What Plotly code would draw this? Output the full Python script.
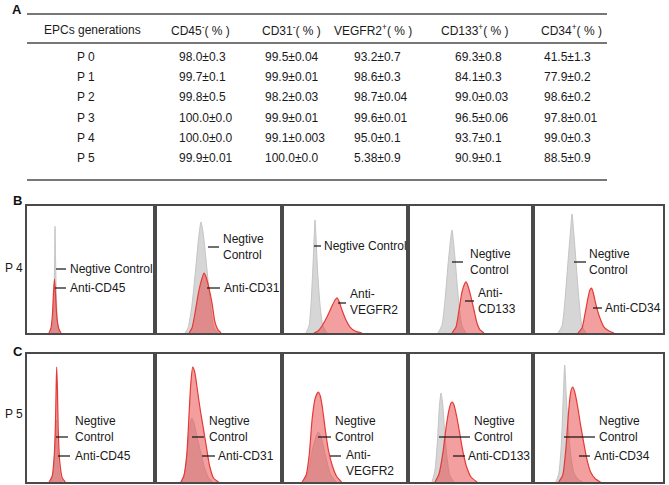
import plotly.graph_objects as go

W, H = 669, 485
FONT = "Liberation Sans, Arial, Helvetica, sans-serif"
TXT = "#1a1a1a"

# ---------------- Table (panel A) data ----------------
table_header = ["EPCs generations", "CD45<sup>-</sup>( % )", "CD31<sup>-</sup>( % )",
                "VEGFR2<sup>+</sup>( % )", "CD133<sup>+</sup>( % )", "CD34<sup>+</sup>( % )"]
generations = ["P 0", "P 1", "P 2", "P 3", "P 4", "P 5"]
cd45 = ["98.0±0.3", "99.7±0.1", "99.8±0.5", "100.0±0.0", "100.0±0.0", "99.9±0.01"]
cd31 = ["99.5±0.04", "99.9±0.01", "98.2±0.03", "99.9±0.01", "99.1±0.003", "100.0±0.0"]
vegfr2 = ["93.2±0.7", "98.6±0.3", "98.7±0.04", "99.6±0.01", "95.0±0.1", "5.38±0.9"]
cd133 = ["69.3±0.8", "84.1±0.3", "99.0±0.03", "96.5±0.06", "93.7±0.1", "90.9±0.1"]
cd34 = ["41.5±1.3", "77.9±0.2", "98.6±0.2", "97.8±0.01", "99.0±0.3", "88.5±0.9"]

# ---------------- Histogram data (intensity units 0-100, counts 0-100) ----------------
# Row B: P 4
p4_cd45_ctrl_x = [18.75, 20.3, 21.1, 21.6, 21.9, 22.3, 22.9, 23.8, 25]
p4_cd45_ctrl_y = [0, 8, 30, 60, 84, 60, 30, 8, 0]
p4_cd45_anti_x = [17.2, 18.75, 19.9, 20.7, 21.5, 22.3, 23.4, 25, 26.6]
p4_cd45_anti_y = [0, 4, 15, 32, 42.5, 30, 12, 3, 0]

p4_cd31_ctrl_x = [23.6, 26.0, 29.1, 32.3, 34.6, 36.2, 37.8, 40.2, 43.3, 46.5, 49.6]
p4_cd31_ctrl_y = [0, 3.9, 22, 53.5, 77, 87.4, 79.5, 57.5, 26, 3.9, 0]
p4_cd31_anti_x = [26.8, 29.1, 31.5, 33.9, 36.2, 38.6, 40.2, 42.5, 44.9, 47.2, 49.6, 52]
p4_cd31_anti_y = [0, 3.9, 15.7, 29.9, 40.2, 47.2, 44.1, 35.4, 23.6, 8.7, 2.4, 0]

p4_vegfr2_ctrl_x = [19, 21.4, 23, 24.6, 25.6, 26.2, 27, 28.2, 30.2, 32.5, 35.7]
p4_vegfr2_ctrl_y = [0, 5.5, 22, 53.5, 77, 89, 75, 49.6, 22, 5.5, 0]
p4_vegfr2_anti_x = [25.4, 28.6, 31.7, 35.7, 39.7, 42.1, 43.7, 45.2, 47.6, 50.8, 54, 57.9, 63.5]
p4_vegfr2_anti_y = [0, 1.6, 5.5, 12.6, 21.3, 26, 27.6, 25.2, 18.1, 10.2, 4.7, 1.6, 0]

p4_cd133_ctrl_x = [24, 27.2, 29.6, 32, 34, 35.2, 36.4, 38.4, 40.8, 43.2, 46.4]
p4_cd133_ctrl_y = [0, 6.3, 26, 53.5, 73.2, 81.1, 71.7, 49.6, 22, 5.5, 0]
p4_cd133_anti_x = [35.2, 38.4, 40.8, 43.2, 45.2, 46.4, 48, 50.4, 52.8, 55.2, 57.6, 60.8]
p4_cd133_anti_y = [0, 4.7, 18.1, 32.3, 38.6, 40.2, 37, 28.3, 18.1, 7.9, 2.4, 0]

p4_cd34_ctrl_x = [19.2, 22.3, 24.6, 26.9, 28.8, 30, 31.2, 33.1, 35.4, 37.7, 40.8]
p4_cd34_ctrl_y = [0, 5.5, 26, 55.9, 79.5, 93.7, 81.1, 55.9, 26, 5.5, 0]
p4_cd34_anti_x = [34.6, 37.7, 40, 42.3, 43.8, 45, 46.2, 48.5, 51.5, 54.6, 58.5, 62.3]
p4_cd34_anti_y = [0, 3.9, 15, 27.6, 33.9, 35.4, 32.3, 22, 11.8, 4.7, 1.6, 0]

# Row C: P 5
p5_cd45_ctrl_x = [18.9, 20.9, 22, 22.8, 23.5, 24.4, 26, 27.6]
p5_cd45_ctrl_y = [0, 9.4, 28.9, 48.4, 32.8, 13.3, 3.1, 0]
p5_cd45_anti_x = [17.3, 19.7, 21.3, 22.3, 22.8, 23.2, 23.8, 24.4, 25.6, 27.6, 29.9]
p5_cd45_anti_y = [0, 4.7, 21.1, 48.4, 75.8, 89.8, 71.9, 40.6, 15.6, 3.1, 0]

p5_cd31_ctrl_x = [21.1, 23.4, 25.8, 27.3, 28.9, 30.5, 32.8, 35.9, 39.1, 42.2, 45.3]
p5_cd31_ctrl_y = [0, 7.8, 26.6, 42.2, 50, 46.9, 36.7, 23.4, 10.9, 3.1, 0]
p5_cd31_anti_x = [20.3, 22.7, 25, 26.6, 28.1, 29.7, 31.3, 33.6, 35.9, 38.3, 40.6, 43, 46.1, 50]
p5_cd31_anti_y = [0, 4.7, 21.1, 48.4, 75.8, 89.8, 85.9, 70.3, 54.7, 40.6, 26.6, 12.5, 3.1, 0]

p5_vegfr2_ctrl_x = [17.6, 20.8, 24, 27.2, 28.8, 31.2, 34.4, 38.4, 43.2]
p5_vegfr2_ctrl_y = [0, 7.8, 25, 35.9, 39.1, 34.4, 21.1, 6.3, 0]
p5_vegfr2_anti_x = [16, 19.2, 21.6, 24, 26.4, 28.8, 30.4, 32, 34.4, 36.8, 40, 43.2, 47.2]
p5_vegfr2_anti_y = [0, 5.5, 21.1, 50, 65.6, 70.3, 67.2, 58.6, 40.6, 25, 12.5, 4.7, 0]

p5_cd133_ctrl_x = [19.2, 21.6, 23.6, 25.2, 26.4, 27.6, 29.2, 31.2, 33.6, 36.8]
p5_cd133_ctrl_y = [0, 9.4, 32.8, 60.2, 69.5, 62.5, 42.2, 18.8, 4.7, 0]
p5_cd133_anti_x = [21.6, 24.8, 28, 30.4, 32.8, 34.4, 35.6, 36.8, 39.2, 41.6, 44, 47.2, 50.4, 55.2]
p5_cd133_anti_y = [0, 6.3, 23.4, 42.2, 56.3, 61.7, 62.5, 60.2, 50, 36.7, 23.4, 10.9, 3.9, 0]

p5_cd34_ctrl_x = [17.6, 19.8, 21.8, 23.3, 24.4, 25.6, 27.1, 29, 31.3, 34.4, 38.2]
p5_cd34_ctrl_y = [0, 6.3, 28.9, 67.2, 91.4, 67.2, 42.2, 21.1, 7.8, 2.3, 0]
p5_cd34_anti_x = [19.8, 22.9, 25.2, 27.5, 29, 30.5, 32.1, 34.4, 36.6, 38.9, 41.2, 44.3, 48.1, 51.9]
p5_cd34_anti_y = [0, 5.5, 25, 56.3, 70.3, 74.2, 70.3, 58.6, 44.5, 31.3, 18.8, 7.8, 2.3, 0]

row_labels = ["P 4", "P 5"]
panel_letters = ["A", "B", "C"]

# ---------------- Layout constants (pixels) ----------------
edges_x = [27, 155, 282, 408, 533, 663]
row_px = [(206, 333), (354, 482)]

def px(x):
    return x / W

def py(y):
    return 1 - y / H

histos = [
    [(p4_cd45_ctrl_x, p4_cd45_ctrl_y, p4_cd45_anti_x, p4_cd45_anti_y),
     (p4_cd31_ctrl_x, p4_cd31_ctrl_y, p4_cd31_anti_x, p4_cd31_anti_y),
     (p4_vegfr2_ctrl_x, p4_vegfr2_ctrl_y, p4_vegfr2_anti_x, p4_vegfr2_anti_y),
     (p4_cd133_ctrl_x, p4_cd133_ctrl_y, p4_cd133_anti_x, p4_cd133_anti_y),
     (p4_cd34_ctrl_x, p4_cd34_ctrl_y, p4_cd34_anti_x, p4_cd34_anti_y)],
    [(p5_cd45_ctrl_x, p5_cd45_ctrl_y, p5_cd45_anti_x, p5_cd45_anti_y),
     (p5_cd31_ctrl_x, p5_cd31_ctrl_y, p5_cd31_anti_x, p5_cd31_anti_y),
     (p5_vegfr2_ctrl_x, p5_vegfr2_ctrl_y, p5_vegfr2_anti_x, p5_vegfr2_anti_y),
     (p5_cd133_ctrl_x, p5_cd133_ctrl_y, p5_cd133_anti_x, p5_cd133_anti_y),
     (p5_cd34_ctrl_x, p5_cd34_ctrl_y, p5_cd34_anti_x, p5_cd34_anti_y)],
]

# label layout per panel: (text, text_x, text_y, tick_x0, tick_x1, tick_y) in pixels
labels = [
    [
        [("Negtive Control", 68, 269, 56, 66, 269), ("Anti-CD45", 68, 288, 55, 66, 288)],
        [("Negtive<br>Control", 221, 247, 208, 219, 247), ("Anti-CD31", 222, 288, 207, 220, 288)],
        [("Negtive Control", 322, 246, 314, 321, 246), ("Anti-<br>VEGFR2", 348, 302, 338, 346, 303)],
        [("Negtive<br>Control", 468, 262, 452, 463, 262), ("Anti-<br>CD133", 476, 301, 465, 474, 301)],
        [("Negtive<br>Control", 587, 262, 574, 586, 262), ("Anti-CD34", 603, 308, 593, 602, 308)],
    ],
    [
        [("Negtive<br>Control", 73, 429, 56, 68, 437), ("Anti-CD45", 73, 456, 58, 70, 456)],
        [("Negtive<br>Control", 207, 429, 192, 204, 437), ("Anti-CD31", 216, 456, 202, 215, 456)],
        [("Negtive<br>Control", 333, 429, 318, 331, 437), ("Anti-<br>VEGFR2", 344, 463, 330, 341, 456)],
        [("Negtive<br>Control", 472, 429, 439, 470, 437), ("Anti-CD133", 466, 456, 453, 465, 456)],
        [("Negtive<br>Control", 597, 429, 564, 595, 437), ("Anti-CD34", 592, 456, 579, 590, 456)],
    ],
]

fig = go.Figure()
layout = dict(width=W, height=H, margin=dict(l=0, r=0, t=0, b=0),
              paper_bgcolor="white", plot_bgcolor="white", showlegend=False,
              font=dict(family=FONT, size=12, color=TXT))
annotations = []
shapes = []

GRAY_FILL = "rgba(214,214,214,1)"
GRAY_LINE = "#c4c4c4"
RED_FILL = "rgba(232,70,70,0.52)"
RED_LINE = "#e53935"

k = 0
for r in range(2):
    top, bot = row_px[r]
    for c in range(5):
        k += 1
        xa = "xaxis" if k == 1 else f"xaxis{k}"
        ya = "yaxis" if k == 1 else f"yaxis{k}"
        xr = "x" if k == 1 else f"x{k}"
        yr = "y" if k == 1 else f"y{k}"
        L, R = edges_x[c], edges_x[c + 1]
        axcommon = dict(range=[0, 100], showgrid=False, zeroline=False, showticklabels=False,
                        ticks="", showline=True, mirror=True, linecolor="#4a4a4a", linewidth=1.5,
                        fixedrange=True)
        layout[xa] = dict(domain=[px(L), px(R)], anchor=yr, **axcommon)
        layout[ya] = dict(domain=[py(bot), py(top)], anchor=xr, **axcommon)
        cx, cy, ax_, ay_ = histos[r][c]
        fig.add_trace(go.Scatter(x=cx, y=cy, xaxis=xr, yaxis=yr, mode="lines", fill="tozeroy",
                                 fillcolor=GRAY_FILL, line=dict(color=GRAY_LINE, width=1, shape="spline", smoothing=0.6),
                                 hoverinfo="skip"))
        fig.add_trace(go.Scatter(x=ax_, y=ay_, xaxis=xr, yaxis=yr, mode="lines", fill="tozeroy",
                                 fillcolor=RED_FILL, line=dict(color=RED_LINE, width=1.2, shape="spline", smoothing=0.6),
                                 hoverinfo="skip"))
        # labels with tick lines
        for (txt, tx, ty, t0, t1, tyy) in labels[r][c]:
            annotations.append(dict(x=px(tx), y=py(ty), xref="paper", yref="paper", text=txt,
                                    showarrow=False, xanchor="left", yanchor="middle", align="left",
                                    font=dict(size=12, color=TXT, family=FONT)))
            shapes.append(dict(type="line", xref="paper", yref="paper", x0=px(t0), x1=px(t1),
                               y0=py(tyy), y1=py(tyy), line=dict(color="#111111", width=1.2)))
    # row label
    annotations.append(dict(x=px(3), y=py((top + bot) / 2 + (-2 if r == 0 else -4)), xref="paper", yref="paper",
                            text=row_labels[r], showarrow=False, xanchor="left", yanchor="middle",
                            font=dict(size=12, color=TXT, family=FONT)))

# panel letters
for letter, (lx, ly) in zip(panel_letters, [(10, 9), (11, 200), (11, 351)]):
    annotations.append(dict(x=px(lx), y=py(ly), xref="paper", yref="paper", text=f"<b>{letter}</b>",
                            showarrow=False, xanchor="left", yanchor="middle",
                            font=dict(size=13, color="#111111", family=FONT)))

# table rules
for yy, lw in [(14, 1.6), (43, 1.6), (180, 1.6)]:
    shapes.append(dict(type="line", xref="paper", yref="paper", x0=px(27), x1=px(607),
                       y0=py(yy), y1=py(yy), line=dict(color="#4a4a4a", width=lw)))

# table header
header_cx = [92, 200, 291, 373, 475, 571]
for hx, htxt in zip(header_cx, table_header):
    annotations.append(dict(x=px(hx), y=py(30), xref="paper", yref="paper", text=htxt,
                            showarrow=False, xanchor="center", yanchor="middle",
                            font=dict(size=12, color=TXT, family=FONT)))

row_y = [57, 77, 97, 118, 138, 158]
col_left = [177, 263, 352, 453, 542]
cols = [cd45, cd31, vegfr2, cd133, cd34]
for i, gy in enumerate(row_y):
    annotations.append(dict(x=px(75), y=py(gy), xref="paper", yref="paper", text=generations[i],
                            showarrow=False, xanchor="left", yanchor="middle",
                            font=dict(size=12, color=TXT, family=FONT)))
    for cl, col in zip(col_left, cols):
        annotations.append(dict(x=px(cl), y=py(gy), xref="paper", yref="paper", text=col[i],
                                showarrow=False, xanchor="left", yanchor="middle",
                                font=dict(size=12, color=TXT, family=FONT)))

layout["annotations"] = annotations
layout["shapes"] = shapes
fig.update_layout(**layout)
fig.write_html("out.html")
